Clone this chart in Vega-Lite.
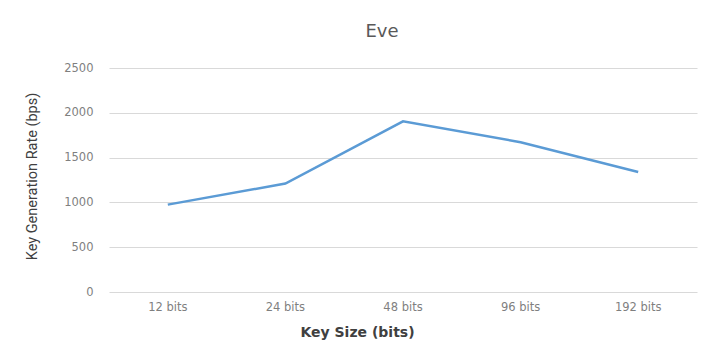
{
  "$schema": "https://vega.github.io/schema/vega-lite/v6.json",
  "width": 588,
  "height": 224,
  "autosize": {"type": "none"},
  "padding": {"left": 109, "top": 68, "right": 13, "bottom": 59},
  "background": "white",
  "title": {
    "text": "Eve",
    "fontSize": 18,
    "font": "DejaVu Sans",
    "fontWeight": "normal",
    "color": "#595959",
    "anchor": "middle",
    "dx": -21,
    "offset": 21
  },
  "data": {
    "values": [
      {"key": "12 bits", "rate": 975},
      {"key": "24 bits", "rate": 1210},
      {"key": "48 bits", "rate": 1905},
      {"key": "96 bits", "rate": 1672},
      {"key": "192 bits", "rate": 1340}
    ]
  },
  "mark": {"type": "line", "color": "#5b9bd5", "strokeWidth": 2.5},
  "encoding": {
    "x": {
      "field": "key",
      "type": "ordinal",
      "sort": null,
      "scale": {"type": "band", "paddingInner": 0, "paddingOuter": 0},
      "axis": {
        "title": "Key Size (bits)",
        "titleFont": "DejaVu Sans",
        "titleFontSize": 14,
        "titleFontWeight": "bold",
        "titleColor": "#404040",
        "titleX": 248,
        "titleY": 40,
        "titleBaseline": "middle",
        "labelAngle": 0,
        "labelFont": "DejaVu Sans",
        "labelFontSize": 11.5,
        "labelColor": "#7f7f7f",
        "labelPadding": 9,
        "ticks": false,
        "tickSize": 0,
        "domain": false,
        "grid": false
      }
    },
    "y": {
      "field": "rate",
      "type": "quantitative",
      "scale": {"domain": [0, 2500], "nice": false},
      "axis": {
        "title": "Key Generation Rate (bps)",
        "titleFont": "Roboto",
        "titleFontSize": 14.5,
        "titleFontWeight": "normal",
        "titleColor": "#404040",
        "titleX": -77,
        "titleY": 108,
        "titleAngle": -90,
        "titleAlign": "center",
        "titleBaseline": "middle",
        "values": [0, 500, 1000, 1500, 2000, 2500],
        "format": "d",
        "labelFont": "DejaVu Sans",
        "labelFontSize": 11.5,
        "labelColor": "#7f7f7f",
        "labelPadding": 16,
        "ticks": false,
        "tickSize": 0,
        "domain": false,
        "grid": true,
        "gridColor": "#d9d9d9",
        "gridWidth": 1
      }
    }
  },
  "config": {"view": {"stroke": null}}
}
